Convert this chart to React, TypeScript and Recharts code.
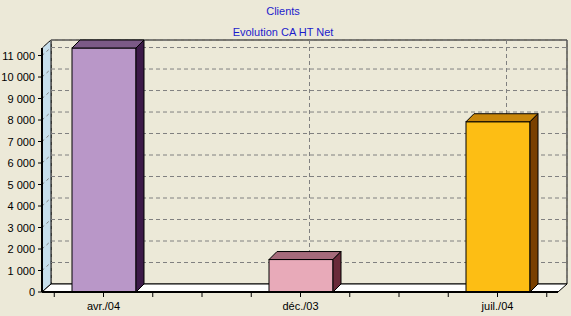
import { BarChart, Bar, XAxis, YAxis, CartesianGrid } from 'recharts'

const categories = ['avr./04', 'déc./03', 'juil./04']
const caHtNet = [11350, 1510, 7920]
const yTicks = [0, 1000, 2000, 3000, 4000, 5000, 6000, 7000, 8000, 9000, 10000, 11000]

const title = 'Clients'
const subtitle = 'Evolution CA HT Net'

const FRONT = ['#b997c8', '#e8aab9', '#fdbe14']
const TOP = ['#7b5a87', '#a66b7b', '#c8860a']
const SIDE = ['#3c1a48', '#6a2a3a', '#7a4000']

const BG = '#ece9d8'
const WALL = '#c7dfec'
const GRID = '#808080'
const FONT = '"Liberation Sans", Arial, sans-serif'

const W = 571
const H = 316
const M = { top: 48, right: 13, bottom: 0, left: 0 }
const Y_W = 42
const X_H = 24

// depth of the back plane and of the bars
const DX = 9
const DY = 8
const BD = 8

const PAD_L = -37
const PAD_R = -38

const data = categories.map((mois, i) => ({ mois, ca: caHtNet[i] }))

function fmt(v: number) {
  return String(v).replace(/\B(?=(\d{3})+(?!\d))/g, ' ')
}

// back wall, side wall and floor, drawn behind the chart svg
function Box3D() {
  const x = M.left + Y_W
  const y = M.top
  const r = W - M.right
  const b = H - M.bottom - X_H
  return (
    <svg width={W} height={H} style={{ position: 'absolute', left: 0, top: 0 }}>
      <polygon
        points={`${x + DX},${y - DY} ${r + DX},${y - DY} ${r + DX},${b - DY} ${x + DX},${b - DY}`}
        fill={BG}
        stroke="#000"
      />
      <polygon
        points={`${x},${b} ${x},${y} ${x + DX},${y - DY} ${x + DX},${b - DY}`}
        fill={WALL}
        stroke="#000"
      />
      <polygon
        points={`${x},${b} ${x + DX},${b - DY} ${r + DX},${b - DY} ${r},${b}`}
        fill="#fff"
        stroke="#000"
      />
    </svg>
  )
}

const hLine = (p: any) => {
  const { x1, y1, x2, index } = p
  if (p.y != null && p.height != null && Math.abs(y1 - (p.y + p.height)) < 1) return <g key={`h${index}`} />
  return (
    <g key={`h${index}`}>
      <line x1={x1} y1={y1} x2={x1 + DX} y2={y1 - DY} stroke={GRID} strokeDasharray="3 3" />
      <line x1={x1 + DX} y1={y1 - DY} x2={x2 + DX} y2={y1 - DY} stroke={GRID} strokeDasharray="4 3" />
    </g>
  )
}

const vLine = (p: any) => {
  const { x1, y1, y2, index } = p
  return (
    <line
      key={`v${index}`}
      x1={x1 + DX}
      y1={Math.min(y1, y2) - DY}
      x2={x1 + DX}
      y2={Math.max(y1, y2) - DY}
      stroke={GRID}
      strokeDasharray="4 3"
    />
  )
}

const Bar3D = (p: any) => {
  const { x, y, width: w, height: h, index } = p
  if (h <= 0) return null
  return (
    <g>
      <rect x={x} y={y} width={w} height={h} fill={FRONT[index]} stroke="#000" />
      <polygon
        points={`${x},${y} ${x + BD},${y - BD} ${x + w + BD},${y - BD} ${x + w},${y}`}
        fill={TOP[index]}
        stroke="#000"
      />
      <polygon
        points={`${x + w},${y} ${x + w + BD},${y - BD} ${x + w + BD},${y + h - BD} ${x + w},${y + h}`}
        fill={SIDE[index]}
        stroke="#000"
      />
    </g>
  )
}

const XTick = (p: any) => {
  const { x, y, payload, index, width } = p
  const bw = width ? (width - PAD_L - PAD_R) / categories.length : 197
  const marks = [x - bw / 4, x, x + bw / 4]
  if (index < categories.length - 1) marks.push(x + bw / 2)
  return (
    <g>
      {marks.map((mx, i) => (
        <line key={i} x1={mx} y1={y + 1} x2={mx} y2={y + 5} stroke="#000" />
      ))}
      <text x={x} y={y + 18} textAnchor="middle" fill="#000" fontSize={11} fontFamily={FONT}>
        {payload.value}
      </text>
    </g>
  )
}

const YTick = (p: any) => {
  const { x, y, payload } = p
  return (
    <text x={x} y={y + 4} textAnchor="end" fill="#000" fontSize={11} fontFamily={FONT}>
      {fmt(payload.value)}
    </text>
  )
}

export default function App() {
  return (
    <div style={{ position: 'absolute', left: 0, top: 0, width: W, height: H, background: BG, fontFamily: FONT }}>
      <Box3D />
      <div style={{ position: 'absolute', left: 0, top: 5, width: 566, textAlign: 'center', fontSize: 11, color: '#1c1ccc', lineHeight: '13px' }}>
        {title}
      </div>
      <div style={{ position: 'absolute', left: 0, top: 26, width: 566, textAlign: 'center', fontSize: 11, color: '#1c1ccc', lineHeight: '13px' }}>
        {subtitle}
      </div>
      <div style={{ position: 'absolute', left: 0, top: 0 }}>
        <BarChart width={W} height={H} data={data} margin={M}>
          <CartesianGrid horizontal={hLine} vertical={vLine} />
          <XAxis
            dataKey="mois"
            height={X_H}
            padding={{ left: PAD_L, right: PAD_R }}
            axisLine={{ stroke: '#000', strokeWidth: 2 }}
            tickLine={false}
            tickSize={0}
            tickMargin={0}
            tick={<XTick />}
            interval={0}
          />
          <YAxis
            width={Y_W}
            domain={[0, 11350]}
            ticks={yTicks}
            tickSize={4}
            tickMargin={3}
            axisLine={{ stroke: '#000', strokeWidth: 2 }}
            tickLine={{ stroke: '#000' }}
            tick={<YTick />}
            interval={0}
          />
          <Bar dataKey="ca" barSize={64} shape={Bar3D} isAnimationActive={false} />
        </BarChart>
      </div>
    </div>
  )
}
